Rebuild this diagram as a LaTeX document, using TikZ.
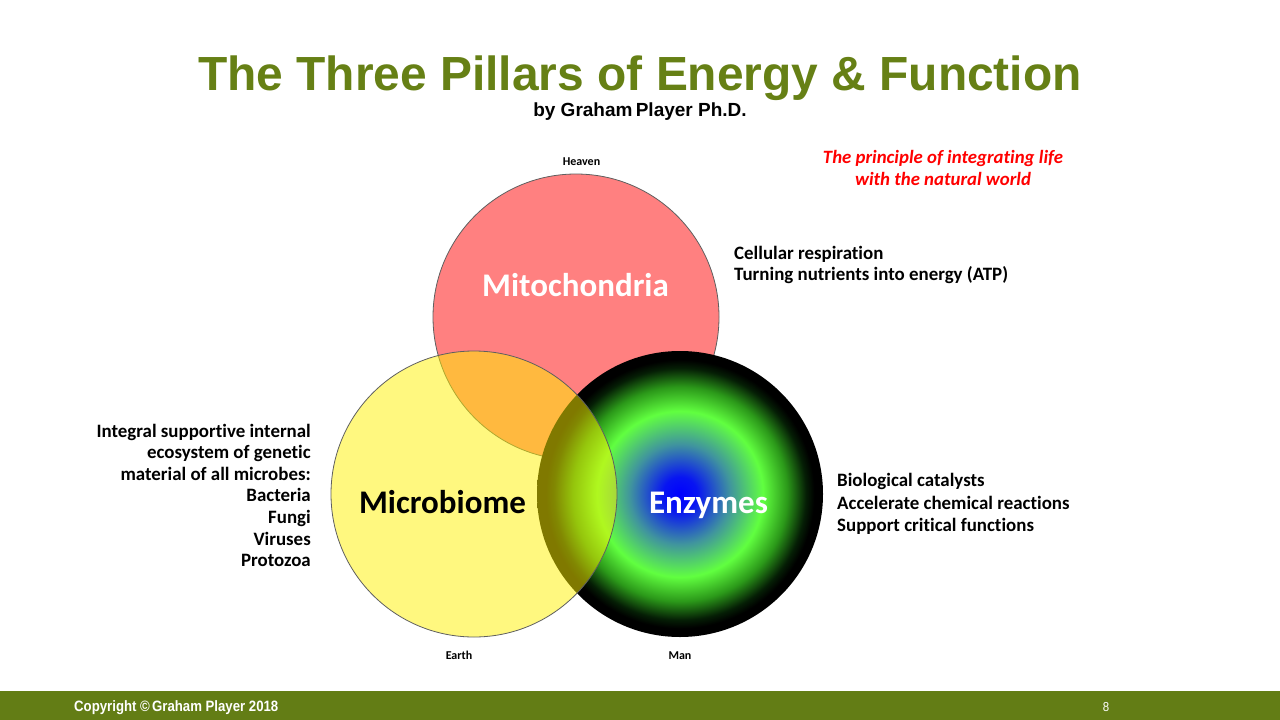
\documentclass[tikz,border=0pt]{standalone}
\usepackage{fontspec}
\setmainfont{Carlito}[Ligatures={NoCommon}]
\newfontfamily\arialf{Liberation Sans}
\definecolor{titlegreen}{RGB}{102,128,21}
\definecolor{footgreen}{RGB}{99,125,21}
\definecolor{mitopink}{RGB}{255,128,128}
\definecolor{edgegray}{RGB}{95,95,95}
\pgfdeclareradialshading{enzshade}{\pgfpoint{0bp}{0bp}}{rgb(0bp)=(0,0,1); rgb(3bp)=(0.03,0.08,0.95); rgb(8.75bp)=(0.25,0.58,0.62); rgb(14.5bp)=(0.38,1,0.25); rgb(18.75bp)=(0.17,0.6,0.1); rgb(22bp)=(0.02,0.12,0.02); rgb(23.5bp)=(0,0,0); rgb(50bp)=(0,0,0)}
\tikzset{
  venn/.style={circle, inner sep=0pt, minimum size=286pt},
  lbl/.style={inner sep=0pt, anchor=base},
  bodyr/.style={inner sep=0pt, anchor=base west, font=\fontsize{18.9}{22}\selectfont\bfseries},
  bodyl/.style={inner sep=0pt, anchor=base east, font=\fontsize{18.9}{22}\selectfont\bfseries},
  small/.style={inner sep=0pt, anchor=base, font=\fontsize{12}{14}\selectfont\bfseries},
  big/.style={inner sep=0pt, anchor=base, font=\fontsize{33}{38}\selectfont\bfseries},
}
\begin{document}
\begin{tikzpicture}[x=1pt,y=-1pt]
\useasboundingbox (0,0) rectangle (1280,720);
\fill[white] (0,0) rectangle (1280,720);
% footer bar
\fill[footgreen] (0,691) rectangle (1280,720);
\node[inner sep=0pt, anchor=base west, text=white, font=\arialf\bfseries\fontsize{15}{17}\selectfont] (copy) at (74,711.5) {\scalebox{0.88}[1]{Copyright \textcopyright\,Graham Player 2018}};
\node[inner sep=0pt, anchor=base, text=white, font=\arialf\fontsize{13}{15}\selectfont] (pnum) at (1106,711) {\scalebox{0.88}[1]{8}};
% title
\node[lbl, text=titlegreen, font=\arialf\bfseries\fontsize{47.9}{52}\selectfont] (title) at (640,90) {The Three Pillars of Energy \& Function};
\node[lbl, font=\arialf\bfseries\fontsize{19}{22}\selectfont] (sub) at (640,116.7) {by Graham\hspace{-2pt} Player Ph.D.};
% circles
\node[venn, fill=mitopink, draw=edgegray, line width=0.8pt] (mito) at (576,317) {};
\node[venn, shade, shading=enzshade] (enz) at (680,494) {};
\node[venn, fill=yellow, fill opacity=0.5, draw=edgegray, draw opacity=1, line width=0.8pt] (micro) at (474,494) {};
% circle labels
\node[big, text=white] (mitolbl) at (575.5,296.7) {Mitochondria};
\node[big, text=black] (microlbl) at (442.5,513.3) {Microbiome};
\node[big, text=white] (enzlbl) at (708.5,513.3) {Enzymes};
\node[small] (heaven) at (581.5,165.7) {Heaven};
\node[small] (earth) at (459,659) {Earth};
\node[small] (man) at (680,659.3) {Man};
% red note
\node[lbl, text=red, font=\fontsize{18.8}{22}\selectfont\bfseries\itshape] (note1) at (943,163.3) {The principle of integrating life};
\node[lbl, text=red, font=\fontsize{18.8}{22}\selectfont\bfseries\itshape] (note2) at (943,185.7) {with the natural world};
% mitochondria text
\node[bodyr] (m1) at (734,259) {Cellular respiration};
\node[bodyr] (m2) at (734,280.5) {Turning nutrients into energy (ATP)};
% microbiome text
\node[bodyl] (b1) at (311,437) {Integral supportive internal};
\node[bodyl] (b2) at (311,458.6) {ecosystem of genetic};
\node[bodyl] (b3) at (311,480.2) {material of all microbes:};
\node[bodyl] (b4) at (311,501.8) {Bacteria};
\node[bodyl] (b5) at (311,523.4) {Fungi};
\node[bodyl] (b6) at (311,545) {Viruses};
\node[bodyl] (b7) at (311,566.6) {Protozoa};
% enzymes text
\node[bodyr] (e1) at (837,486.7) {Biological catalysts};
\node[bodyr] (e2) at (837,509) {Accelerate chemical reactions};
\node[bodyr] (e3) at (837,531.2) {Support critical functions};
\end{tikzpicture}
\end{document}
